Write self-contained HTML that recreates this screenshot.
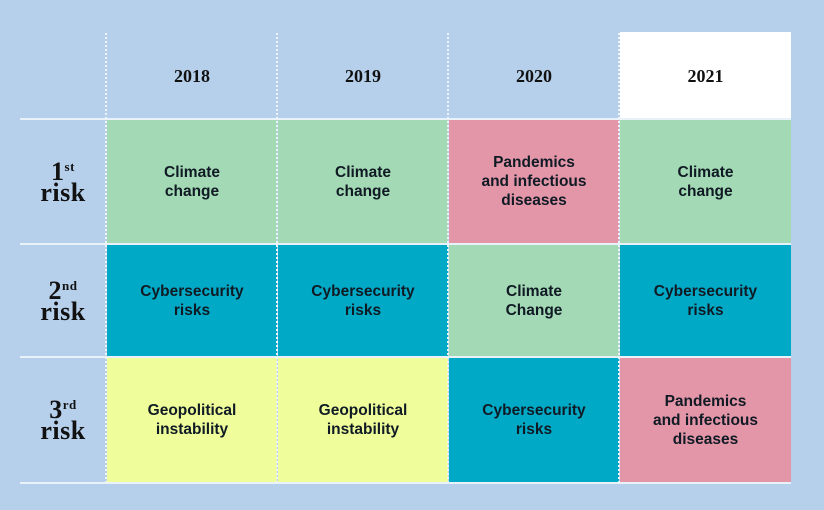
<!DOCTYPE html>
<html><head><style>
body{margin:0;width:824px;height:510px;background:#b6d0ec;position:relative;overflow:hidden;font-family:"Liberation Sans",sans-serif;}
.c{position:absolute;display:flex;align-items:center;justify-content:center;text-align:center;font-size:15.5px;line-height:19px;color:#101a24;}
.g{background:#a3d9b4}.t{background:#00aac6}.p{background:#e296a8}.y{background:#effe9b}
.h{font-family:"Liberation Serif",serif;font-weight:bold;font-size:18px;color:#111;}
.l{font-family:"Liberation Serif",serif;font-weight:bold;font-size:26px;line-height:21px;color:#111;letter-spacing:0.5px}
.l sup{font-size:13px;vertical-align:top;line-height:12px}
.hl{position:absolute;left:20px;width:771px;height:2px;background:#e9f2f8}
.vl{position:absolute;top:33px;height:450px;width:0;border-left:2px dotted #eef4fa}
.c:not(.h):not(.l){font-weight:bold}
</style></head><body>
<div class="c" style="left:620px;top:32px;width:171px;height:86px;background:#fff"></div>
<div class="c h" style="left:107px;top:33px;width:170px;height:86px">2018</div>
<div class="c h" style="left:278px;top:33px;width:170px;height:86px">2019</div>
<div class="c h" style="left:449px;top:33px;width:170px;height:86px">2020</div>
<div class="c h" style="left:620px;top:33px;width:171px;height:86px">2021</div>

<div class="c l" style="left:20px;top:120px;width:86px;height:123px"><div>1<sup>st</sup><br>risk</div></div>
<div class="c l" style="left:20px;top:245px;width:86px;height:111px"><div>2<sup>nd</sup><br>risk</div></div>
<div class="c l" style="left:20px;top:358px;width:86px;height:124px"><div>3<sup>rd</sup><br>risk</div></div>

<div class="c g" style="left:107px;top:120px;width:170px;height:123px">Climate<br>change</div>
<div class="c g" style="left:278px;top:120px;width:170px;height:123px">Climate<br>change</div>
<div class="c p" style="left:449px;top:120px;width:170px;height:123px">Pandemics<br>and infectious<br>diseases</div>
<div class="c g" style="left:620px;top:120px;width:171px;height:123px">Climate<br>change</div>

<div class="c t" style="left:107px;top:245px;width:170px;height:111px">Cybersecurity<br>risks</div>
<div class="c t" style="left:278px;top:245px;width:170px;height:111px">Cybersecurity<br>risks</div>
<div class="c g" style="left:449px;top:245px;width:170px;height:111px">Climate<br>Change</div>
<div class="c t" style="left:620px;top:245px;width:171px;height:111px">Cybersecurity<br>risks</div>

<div class="c y" style="left:107px;top:358px;width:170px;height:124px">Geopolitical<br>instability</div>
<div class="c y" style="left:278px;top:358px;width:170px;height:124px">Geopolitical<br>instability</div>
<div class="c t" style="left:449px;top:358px;width:170px;height:124px">Cybersecurity<br>risks</div>
<div class="c p" style="left:620px;top:358px;width:171px;height:124px">Pandemics<br>and infectious<br>diseases</div>

<div class="hl" style="top:118px"></div>
<div class="hl" style="top:243px"></div>
<div class="hl" style="top:356px"></div>
<div class="hl" style="top:482px"></div>
<div class="vl" style="left:105px"></div>
<div class="vl" style="left:276px"></div>
<div class="vl" style="left:447px"></div>
<div class="vl" style="left:618px"></div>
</body></html>
